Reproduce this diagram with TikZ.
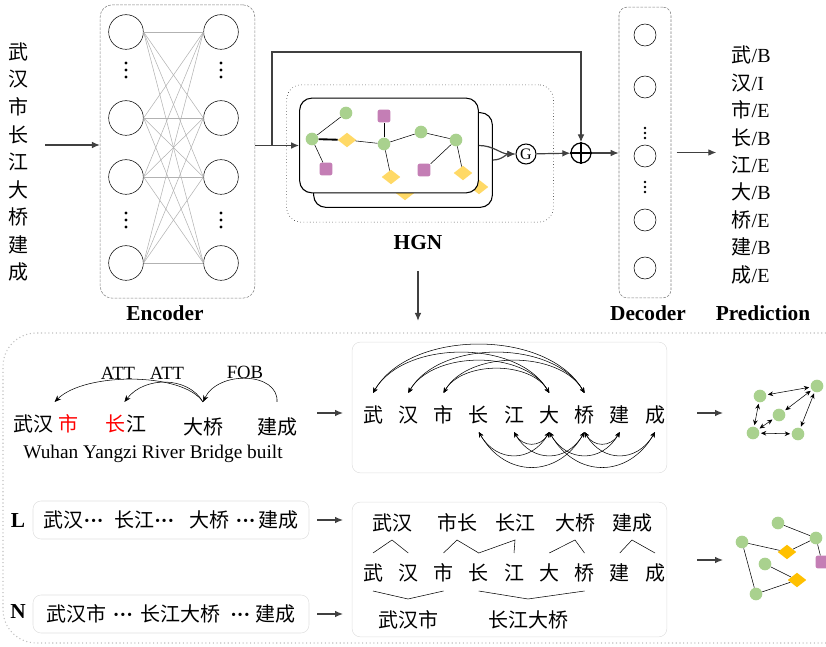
\documentclass[tikz,border=0pt]{standalone}
\usepackage{fontspec}
\setmainfont{Liberation Serif}
\newfontfamily\cjk{Noto Sans CJK SC}
\usetikzlibrary{shapes.geometric,arrows.meta,calc}

\definecolor{leafgreen}{HTML}{A9D18E}
\definecolor{gold}{HTML}{FFD966}
\definecolor{deepgold}{HTML}{FFC000}
\definecolor{mauve}{HTML}{C47EB5}
\definecolor{arrgray}{HTML}{404040}

\newcommand{\tagc}[2]{{\cjk #1}/#2}
\newcommand{\ellip}{{\rmfamily\bfseries ···}}

\begin{document}
\begin{tikzpicture}[x=0.75pt, y=0.75pt,
  zh/.style={font=\cjk\fontsize{15}{17}\selectfont, inner sep=1pt},
  title/.style={font=\fontsize{16}{18}\selectfont\bfseries},
  dotbox/.style={draw=gray, dash pattern=on 2pt off 1pt, rounded corners=9pt},
  cell/.style={circle, draw, thin, minimum size=26pt, inner sep=0},
  dcell/.style={circle, draw, thin, minimum size=16.5pt, inner sep=0},
  gbox/.style={draw, fill=white, line width=0.8pt, rounded corners=9pt,
    minimum width=134pt, minimum height=71pt},
  panel/.style={draw=black!12, rounded corners=6pt},
  arr/.style={-{Latex[length=6pt, width=5pt]}, draw=arrgray, line width=0.9pt},
  dep/.style={{Stealth[length=4pt, width=3.5pt]}-{Stealth[length=4pt, width=3.5pt]}, thin},
  gn/.style={circle, fill=leafgreen, minimum size=9.5pt, inner sep=0},
  yn/.style={diamond, fill=gold, minimum width=14pt, minimum height=11pt, inner sep=0},
  pn/.style={rectangle, rounded corners=1.5pt, fill=mauve, minimum size=9.5pt, inner sep=0},
]
\useasboundingbox (0,0) rectangle (826,647);

% input sentence
\foreach \ch [count=\i from 0] in {武,汉,市,长,江,大,桥,建,成}
  \node[zh] (in\i) at (18,{595-27.5*\i}) {\ch};
\coordinate (inarr) at (45,502);

% encoder
\node[dotbox, minimum width=116pt, minimum height=220pt] (enc) at (177.5,495.5) {};
\foreach \y [count=\i] in {615,529,470,384} {
  \node[cell] (l\i) at (126,\y) {};
  \node[cell] (r\i) at (221,\y) {};
}
\foreach \i in {1,...,4}
  \foreach \j in {1,...,4}
    \draw[black!30] (l\i.east) -- (r\j.west);
\foreach \x in {126,221}
  \foreach \y in {577,427}
    \foreach \k in {-7,0,7}
      \fill (\x,\y+\k) circle (1.7);
\node[title] (enclab) at (165,334) {Encoder};
\draw[arr] (inarr) -- (enc.west |- inarr);

% HGN
\node[draw, dotted, rounded corners=11pt, minimum width=200pt, minimum height=103pt] (hgn) at (420,493.5) {};
\node[gbox] (back) at (403,487) {};
\node[yn] (bd1) at (405,454) {};
\node[yn] (bd2) at (479,460) {};
\node[gbox] (front) at (389,501.5) {};
\node[gn] (g1) at (346,534) {};
\node[gn] (g2) at (312,508) {};
\node[gn] (g3) at (384,503) {};
\node[gn] (g4) at (421,515) {};
\node[gn] (g5) at (456,507) {};
\node[yn] (y1) at (347,507) {};
\node[yn] (y2) at (391,470) {};
\node[yn] (y3) at (463,474) {};
\node[pn] (p1) at (384,531) {};
\node[pn] (p2) at (326,478) {};
\node[pn] (p3) at (424,477) {};
\draw (g2) -- (g1);
\draw[line width=1.4pt] (g2) -- (y1);
\draw (g2) -- (p2);
\draw (y1) -- (g3);
\draw (g3) -- (p1);
\draw (g3) -- (y2);
\draw (g3) -- (g4);
\draw (g4) -- (g5);
\draw (g5) -- (p3);
\draw (g5) -- (y3);

\node[circle, draw, line width=0.8pt, minimum size=15pt, inner sep=0,
  font=\fontsize{12}{12}\selectfont] (gate) at (526,493) {G};
\node[circle, draw, line width=0.9pt, minimum size=15pt, inner sep=0] (plus) at (581,494) {};
\draw[line width=0.9pt] (plus.north) -- (plus.south) (plus.west) -- (plus.east);

\coordinate (split) at (272,501.5);
\coordinate (skip) at (0,595);
\draw[arr] (enc.east |- front.west) -- (front.west);
\draw[arr] (split) |- (plus |- skip) -- (plus.north);
\draw[arr] (front.east) to[out=0, in=180] (gate.west);
\draw[arr] (back.east) to[out=0, in=180] (gate.west);
\draw[arr] (gate) -- (plus);
\node[title] (hgnlab) at (418,404) {HGN};
\draw[arr] ([yshift=-12pt]hgnlab.south) -- ++(0,-50);

% decoder
\node[dotbox, rounded corners=6pt, minimum width=39pt, minimum height=218pt] (dec) at (645,494.5) {};
\foreach \y [count=\i] in {612,560,491,427,379}
  \node[dcell] (d\i) at (645,\y) {};
\foreach \y in {514,460}
  \foreach \k in {-5,0,5}
    \fill (645,\y+\k) circle (1.4);
\draw[arr] (plus) -- (dec.west |- plus);
\node[title] (declab) at (648,334) {Decoder};

% prediction
\node[anchor=west, align=left, font=\fontsize{15}{20.6}\selectfont] (pred) at (727,482)
  {\tagc{武}{B}\\ \tagc{汉}{I}\\ \tagc{市}{E}\\ \tagc{长}{B}\\ \tagc{江}{E}\\
   \tagc{大}{B}\\ \tagc{桥}{E}\\ \tagc{建}{B}\\ \tagc{成}{E}};
\draw[arr, shorten >=8pt] ([xshift=4pt]dec.east) -- (pred.west |- dec.east);
\node[title] (predlab) at (763,334) {Prediction};

% lower part
\draw[black!25, dotted, line width=0.8pt, rounded corners=25pt]
  (826,314) -- (3,314) -- (3,4) -- (826,4);

% dependency parse
\node[zh] (w1) at (33,223) {武汉};
\node[zh, text=red] (w2) at (68,223) {市};
\node[zh, text=red] (w3) at (115,223) {长};
\node[zh] (w4) at (136,223) {江};
\node[zh] (w5) at (203,220) {大桥};
\node[zh] (w6) at (277,220) {建成};
\node[font=\fontsize{14.5}{16}\selectfont] (eng) at (153,193) {Wuhan Yangzi River Bridge built};
\coordinate (ab) at (0,245);
\draw[-{Stealth[length=5pt, width=4pt]}] (w5.north |- ab) .. controls +(-20,30) and +(30,30) .. (w1.north east |- ab);
\draw[-{Stealth[length=5pt, width=4pt]}] (w5.north |- ab) .. controls +(-15,26) and +(20,26) .. (w4.north west |- ab);
\draw[-{Stealth[length=5pt, width=4pt]}] (w6.north |- ab) .. controls +(2,30) and +(15,32) .. (w5.north |- ab);
\node[font=\fontsize{14}{16}\selectfont] (att1) at (118,274) {ATT};
\node[font=\fontsize{14}{16}\selectfont] (att2) at (167,274) {ATT};
\node[font=\fontsize{14}{16}\selectfont] (fob) at (245,275) {FOB};
\draw[arr] (317,234) -- (343,234);

% character graph
\node[panel, minimum width=236pt, minimum height=98pt] (sent) at (509.5,239.5) {};
\foreach \ch [count=\i from 0] in {武,汉,市,长,江,大,桥,建,成}
  \node[zh] (c\the\numexpr\i+1\relax) at ({373+35.25*\i},232) {\ch};
\coordinate (cu) at (0,254);
\coordinate (cd) at (0,215);
\foreach \a/\b in {1/6,1/7,2/6,2/7,3/6,3/7}
  \draw[dep] (c\a |- cu) to[out=60, in=120, looseness=0.9] (c\b |- cu);
\foreach \a/\b in {4/6,4/7,5/6,5/7,6/8,6/9,7/8,7/9}
  \draw[dep] (c\a |- cd) to[out=-60, in=-120, looseness=1.3] (c\b |- cd);
\draw[arr] (697,234) -- (723,234);

\node[gn] (ga) at (760,251) {};
\node[gn] (gb) at (817,261) {};
\node[gn] (gc) at (779,232) {};
\node[gn] (gd) at (753,214) {};
\node[gn] (ge) at (798,213) {};
\foreach \a/\b in {ga/gb,ga/gd,gb/gc,gb/ge,gc/gd,gd/ge}
  \draw[dep, shorten <=1pt, shorten >=1pt] (\a) -- (\b);

% lexicon and n-gram rows
\node[title] (ltag) at (18,126) {L};
\node[panel, zh, minimum width=207pt, minimum height=28.5pt] (lbox) at (171,127)
  {武汉\ellip\hspace{8pt}长江\ellip\hspace{11pt}大桥\hspace{5pt}\ellip\hspace{2pt}建成};
\draw[arr] (317,127) -- (343,127);
\node[title] (ntag) at (18,35) {N};
\node[panel, zh, minimum width=207pt, minimum height=28.5pt] (nbox) at (171,33)
  {武汉市\hspace{5pt}\ellip\hspace{6pt}长江大桥\hspace{7pt}\ellip\hspace{4pt}建成};
\draw[arr] (317,33) -- (343,33);

\node[panel, minimum width=236pt, minimum height=101pt] (lat) at (509.5,77.5) {};
\node[zh] (t1) at (392,124) {武汉};
\node[zh] (t2) at (457,124) {市长};
\node[zh] (t3) at (515,124) {长江};
\node[zh] (t4) at (575,124) {大桥};
\node[zh] (t5) at (632,124) {建成};
\foreach \ch [count=\i from 0] in {武,汉,市,长,江,大,桥,建,成}
  \node[zh] (m\the\numexpr\i+1\relax) at ({373+35.25*\i},74) {\ch};
\node[zh] (b1) at (408,27) {武汉市};
\node[zh] (b2) at (528,27) {长江大桥};
\coordinate (hb) at (0,94);
\coordinate (ht) at (0,107);
\coordinate (lt) at (0,56);
\coordinate (lb) at (0,48);
\draw (m1 |- hb) -- (t1 |- ht) -- (m2 |- hb);
\draw (m3 |- hb) -- (t2 |- ht) -- (m4 |- hb) -- (t3 |- ht) -- (m5 |- hb);
\draw (m6 |- hb) -- (t4 |- ht) -- (m7 |- hb);
\draw (m8 |- hb) -- (t5 |- ht) -- (m9 |- hb);
\draw (m1 |- lt) -- (b1 |- lb) -- (m3 |- lt);
\draw (m4 |- lt) -- (b2 |- lb) -- (m7 |- lt);
\draw[arr] (697,87) -- (723,87);

\node[gn] (ha) at (778,124) {};
\node[gn] (hb2) at (816,109) {};
\node[gn] (hc) at (742,105) {};
\node[yn, fill=deepgold] (hy1) at (787,95) {};
\node[gn] (hd) at (765,83) {};
\node[yn, fill=deepgold] (hy2) at (797,67) {};
\node[gn] (he) at (756,53) {};
\node[pn] (hp) at (822,85) {};
\draw (ha) -- (hb2);
\draw (hb2) -- (hy1);
\draw (hy1) -- (hc);
\draw (hb2) -- (hp);
\draw (hc) -- (he);
\draw (he) -- (hy2);
\draw (hy2) -- (hd);
\end{tikzpicture}
\end{document}
